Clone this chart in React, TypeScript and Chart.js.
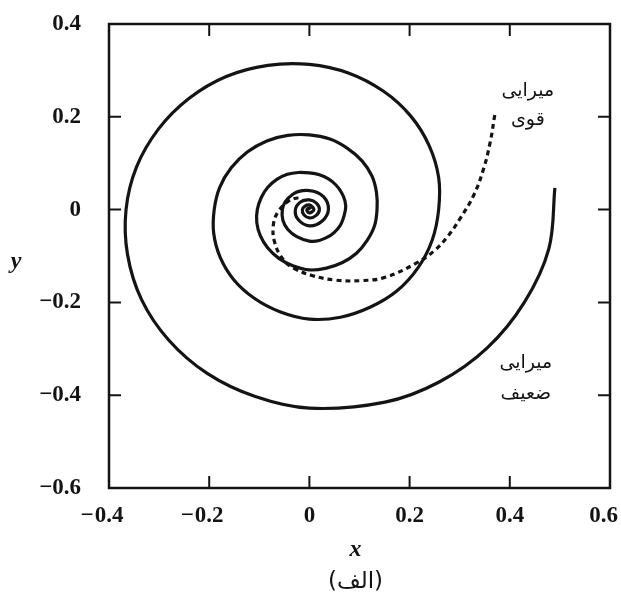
import React, { useEffect, useRef } from "react";
import { Chart, registerables } from "chart.js";

Chart.register(...registerables);

// Weak damping (solid spiral), read clockwise from the outer end inwards
const weakX = [
  0.490, 0.478, 0.429, 0.355, 0.260, 0.151, 0.000,
  -0.108, -0.204, -0.281, -0.335, -0.363, -0.366,
  -0.345, -0.301, -0.240, -0.166, -0.083, 0.000,
  0.079, 0.148, 0.202, 0.239, 0.258, 0.258,
  0.245, 0.217, 0.175, 0.122, 0.062, 0.000,
  -0.059, -0.110, -0.151, -0.178, -0.191, -0.190,
  -0.179, -0.156, -0.124, -0.085, -0.043, 0.000,
  0.041, 0.076, 0.105, 0.125, 0.134, 0.135,
  0.130, 0.115, 0.094, 0.066, 0.034, 0.000,
  -0.033, -0.061, -0.083, -0.098, -0.105, -0.104,
  -0.096, -0.083, -0.065, -0.044, -0.022, 0.000,
  0.020, 0.038, 0.053, 0.064, 0.071, 0.072,
  0.061, 0.035, 0.000, -0.043, -0.054,
  -0.033, 0.000, 0.028, 0.038,
  0.025, 0.000, -0.022, -0.028,
  -0.017, 0.000, 0.014, 0.020,
  0.013, 0.000, -0.011, -0.014,
  -0.008, 0.000, 0.006, 0.009,
  0.005, 0.000, -0.004, -0.005,
  0.000, 0.002,
];
const weakY = [
  0.047, -0.084, -0.200, -0.298, -0.371, -0.415, -0.428,
  -0.403, -0.353, -0.281, -0.194, -0.097, 0.000,
  0.092, 0.174, 0.240, 0.287, 0.311, 0.313,
  0.294, 0.255, 0.202, 0.138, 0.069, 0.000,
  -0.066, -0.125, -0.175, -0.210, -0.232, -0.236,
  -0.220, -0.191, -0.151, -0.103, -0.051, 0.000,
  0.048, 0.090, 0.124, 0.148, 0.160, 0.161,
  0.152, 0.132, 0.105, 0.072, 0.036, 0.000,
  -0.035, -0.067, -0.094, -0.114, -0.126, -0.130,
  -0.121, -0.105, -0.083, -0.056, -0.028, 0.000,
  0.026, 0.048, 0.065, 0.076, 0.080, 0.079,
  0.075, 0.066, 0.053, 0.037, 0.019, 0.000,
  -0.035, -0.060, -0.068, -0.043, 0.000,
  0.033, 0.041, 0.028, 0.000,
  -0.025, -0.035, -0.022, 0.000,
  0.017, 0.021, 0.014, 0.000,
  -0.013, -0.018, -0.011, 0.000,
  0.008, 0.010, 0.006, 0.000,
  -0.005, -0.007, -0.004, 0.000,
  0.003, 0.000,
];

// Strong damping (dashed curve)
const strongX = [
  0.370, 0.361, 0.348, 0.328, 0.301, 0.278, 0.251, 0.214, 0.151, 0.105,
  0.052, 0.005, -0.030, -0.052, -0.069, -0.072, -0.062, -0.042, -0.022, -0.012,
];
const strongY = [
  0.204, 0.146, 0.089, 0.031, -0.019, -0.055, -0.087, -0.115, -0.146, -0.153,
  -0.152, -0.142, -0.127, -0.108, -0.072, -0.033, -0.004, 0.018, 0.025, 0.018,
];

const xTickVals = [-0.2, 0, 0.2, 0.4];
const yTickVals = [0.2, 0, -0.2, -0.4];
const xLabelVals = [-0.4, -0.2, 0, 0.2, 0.4, 0.6];
const strongLabel = ["میرایی", "قوی"];
const weakLabel = ["میرایی", "ضعیف"];
const xTitle = "x";
const yTitle = "y";
const caption = "(الف)";

const INK = "#141414";
const TICK_FONT = 'bold 23px "Liberation Serif", "Times New Roman", serif';
const FA_FONT = '19px "DejaVu Sans", "Noto Sans", sans-serif';

const fmt = (v: number) => {
  const a = Math.abs(v);
  const s = a === 0 ? "0" : a.toFixed(1);
  return v < 0 ? "\u2212" + s : s;
};

const decorPlugin = {
  id: "decor",
  afterDraw(chart: any) {
    const { ctx, chartArea } = chart;
    const xs = chart.scales.x;
    const ys = chart.scales.y;
    const { left, right, top, bottom } = chartArea;
    ctx.save();
    // frame
    ctx.strokeStyle = INK;
    ctx.lineWidth = 2.5;
    ctx.strokeRect(left, top, right - left, bottom - top);
    // inward ticks
    ctx.lineWidth = 2;
    const tl = 12;
    ctx.beginPath();
    xTickVals.forEach((v) => {
      const p = xs.getPixelForValue(v);
      ctx.moveTo(p, bottom);
      ctx.lineTo(p, bottom - tl);
      ctx.moveTo(p, top);
      ctx.lineTo(p, top + tl);
    });
    yTickVals.forEach((v) => {
      const p = ys.getPixelForValue(v);
      ctx.moveTo(left, p);
      ctx.lineTo(left + tl, p);
      ctx.moveTo(right, p);
      ctx.lineTo(right - tl, p);
    });
    ctx.stroke();

    // x tick labels (minus sign hangs to the left of the number)
    ctx.fillStyle = INK;
    ctx.font = TICK_FONT;
    ctx.textBaseline = "middle";
    const W = chart.width;
    xLabelVals.forEach((v) => {
      const num = fmt(Math.abs(v));
      const w = ctx.measureText(num).width;
      let p = xs.getPixelForValue(v);
      p = Math.min(p, W - w / 2 - 3);
      ctx.textAlign = "center";
      ctx.fillText(num, p, bottom + 28);
      if (v < 0) {
        ctx.textAlign = "right";
        ctx.fillText("\u2212", p - w / 2 - 1, bottom + 28);
      }
    });

    // axis titles
    ctx.font = 'bold italic 24px "Liberation Serif", serif';
    ctx.textAlign = "center";
    ctx.fillText(yTitle, 16, (top + bottom) / 2 + 6);
    const cx = (left + right) / 2 - 4;
    ctx.fillText(xTitle, cx, bottom + 62);
    ctx.font = '23px "DejaVu Sans", sans-serif';
    ctx.direction = "rtl";
    ctx.fillText(caption, cx, bottom + 94);

    // curve labels
    ctx.font = FA_FONT;
    ctx.textAlign = "center";
    const lx = xs.getPixelForValue(0.436);
    ctx.fillText(strongLabel[0], lx, ys.getPixelForValue(0.256));
    ctx.fillText(strongLabel[1], lx, ys.getPixelForValue(0.192));
    ctx.fillText(weakLabel[0], lx - 2, ys.getPixelForValue(-0.330));
    ctx.fillText(weakLabel[1], lx - 2, ys.getPixelForValue(-0.397));
    ctx.restore();
  },
};

export default function App() {
  const ref = useRef<HTMLCanvasElement | null>(null);
  useEffect(() => {
    if (!ref.current) return;
    const weak = weakX.map((x, i) => ({ x, y: weakY[i] }));
    const strong = strongX.map((x, i) => ({ x, y: strongY[i] }));
    const chart = new Chart(ref.current, {
      type: "scatter",
      data: {
        datasets: [
          {
            label: "weak",
            data: weak,
            showLine: true,
            borderColor: INK,
            borderWidth: 3.2,
            pointRadius: 0,
            tension: 0.36,
            fill: false,
          },
          {
            label: "strong",
            data: strong,
            showLine: true,
            borderColor: INK,
            borderWidth: 3.2,
            borderDash: [5, 4],
            pointRadius: 0,
            tension: 0.4,
            fill: false,
          },
        ],
      },
      options: {
        animation: false,
        responsive: false,
        devicePixelRatio: 1,
        layout: { padding: { top: 24, right: 11, left: 0, bottom: 0 } },
        plugins: {
          legend: { display: false },
          tooltip: { enabled: false },
          title: { display: false },
        },
        scales: {
          x: {
            type: "linear",
            min: -0.4,
            max: 0.6,
            grid: { display: false },
            border: { display: false },
            ticks: { display: false, stepSize: 0.2 },
            afterFit: (s: any) => {
              s.height = 108;
              s.paddingLeft = 0;
              s.paddingRight = 0;
            },
          },
          y: {
            type: "linear",
            min: -0.6,
            max: 0.4,
            grid: { display: false },
            border: { display: false },
            ticks: {
              stepSize: 0.2,
              padding: 20,
              color: INK,
              font: { family: '"Liberation Serif", serif', weight: "bold", size: 23 },
              callback: (v: any) => fmt(Number(v)),
            },
            afterFit: (s: any) => {
              s.width = 109;
              s.paddingTop = 0;
              s.paddingBottom = 0;
            },
          },
        },
      },
      plugins: [decorPlugin],
    } as any);
    return () => chart.destroy();
  }, []);
  return (
    <div style={{ position: "fixed", left: 0, top: 0, width: 621, height: 596, background: "#fff" }}>
      <canvas ref={ref} width={621} height={596} style={{ display: "block" }} />
    </div>
  );
}
